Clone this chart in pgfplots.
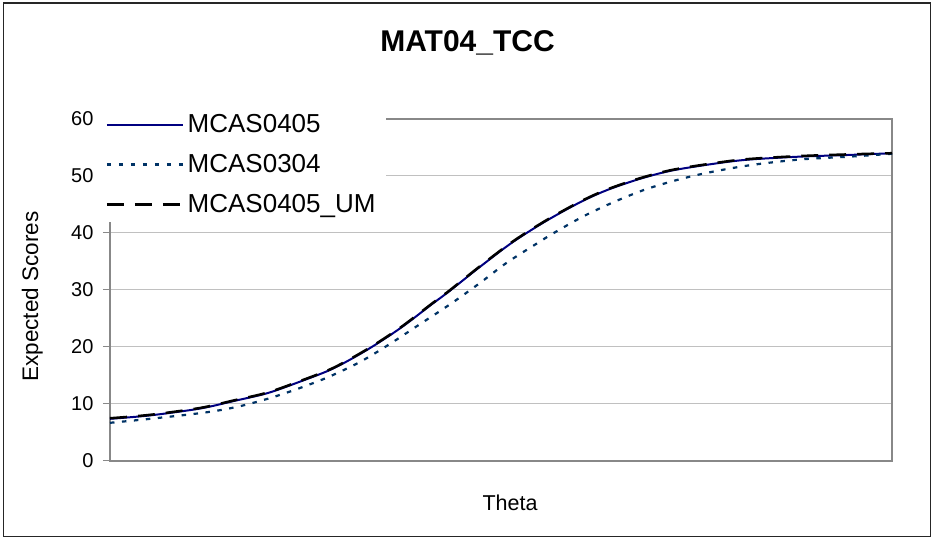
\documentclass[border=0pt]{standalone}
\usepackage{fontspec}
\setmainfont{Liberation Sans}
\usepackage{pgfplots}
\pgfplotsset{compat=1.18}
\definecolor{navyline}{RGB}{0,0,128}
\definecolor{dotblue}{RGB}{0,51,102}
\definecolor{axisgray}{RGB}{136,136,136}
\definecolor{gridgray}{RGB}{192,192,192}
\begin{document}
\begin{tikzpicture}
\useasboundingbox (0,0) rectangle (932pt,538pt);
\draw[line width=1.3pt, black!85] (3.5pt,1.5pt) rectangle (930.5pt,535pt);
\begin{axis}[
  at={(110pt,77pt)}, anchor=south west,
  scale only axis, width=782pt, height=342pt,
  xmin=-4, xmax=4, ymin=0, ymax=60,
  xtick=\empty, ytick={0,10,...,60}, ytick pos=left,
  ymajorgrids, grid style={gridgray, line width=1pt},
  axis line style={axisgray, line width=2pt},
  tick align=outside, major tick length=7pt,
  tick style={axisgray, line width=1pt},
  yticklabel style={font=\fontsize{20}{24}\selectfont, xshift=-6pt},
  /pgf/number format/assume math mode=true,
  title={\textbf{MAT04\_TCC}},
  title style={at={(axis description cs:0.4572,1.181)}, anchor=base, font=\fontsize{30}{36}\selectfont},
  xlabel={Theta},
  xlabel style={at={(axis description cs:0.5115,-0.1433)}, anchor=base, font=\fontsize{21.5}{26}\selectfont},
  ylabel={Expected Scores},
  ylabel style={at={(axis description cs:-0.092,0.4804)}, anchor=base, font=\fontsize{22.5}{27}\selectfont},
  legend style={at={(0,1)}, anchor=north west, xshift=-11.5pt, yshift=12pt,
    draw=none, fill=white, inner xsep=7pt, inner ysep=4pt, row sep=13.3pt,
    font=\fontsize{26}{31}\selectfont, nodes={inner sep=3.5pt}},
  legend cell align=left,
  legend image code/.code={\draw[#1] (0pt,0pt) -- (76pt,0pt);},
]
\addplot[navyline, line width=2pt, smooth] coordinates {
(-4.00,7.4) (-3.59,8.0) (-3.08,9.2) (-2.74,10.5) (-2.39,11.9) (-2.06,13.9)
(-1.72,16.2) (-1.37,19.5) (-1.03,23.3) (-0.70,27.6) (-0.55,29.5) (-0.22,34.0)
(0.12,38.4) (0.47,42.2) (0.81,45.4) (1.08,47.5) (1.42,49.5) (1.76,51.0)
(2.24,52.3) (2.55,52.9) (3.06,53.4) (3.57,53.7) (4.00,54.0)};
\addlegendentry{MCAS0405}
\addplot[dotblue, line width=2.2pt, dash pattern=on 4.5pt off 7.5pt, smooth] coordinates {
(-4.00,6.7) (-3.59,7.4) (-3.03,8.5) (-2.70,9.5) (-2.39,10.9) (-2.09,12.6)
(-1.77,14.7) (-1.44,17.4) (-1.14,20.5) (-0.83,24.0) (-0.52,27.5) (-0.21,31.3)
(0.06,34.8) (0.38,38.3) (0.53,39.9) (0.84,42.9) (1.15,45.4) (1.47,47.6)
(1.80,49.3) (2.12,50.6) (2.55,51.9) (3.06,52.9) (3.57,53.4) (4.00,53.9)};
\addlegendentry{MCAS0304}
\addplot[black, line width=2.5pt, dash pattern=on 17pt off 11pt, smooth] coordinates {
(-4.00,7.5) (-3.59,8.1) (-3.08,9.3) (-2.74,10.6) (-2.39,12.0) (-2.06,14.0)
(-1.72,16.3) (-1.37,19.6) (-1.03,23.4) (-0.70,27.7) (-0.55,29.6) (-0.22,34.1)
(0.12,38.5) (0.47,42.3) (0.81,45.5) (1.08,47.6) (1.42,49.6) (1.76,51.1)
(2.24,52.4) (2.55,53.0) (3.06,53.5) (3.57,53.8) (4.00,54.0)};
\addlegendentry{\raisebox{0pt}[\height][0pt]{MCAS0405\_UM}}
\end{axis}
\end{tikzpicture}
\end{document}
